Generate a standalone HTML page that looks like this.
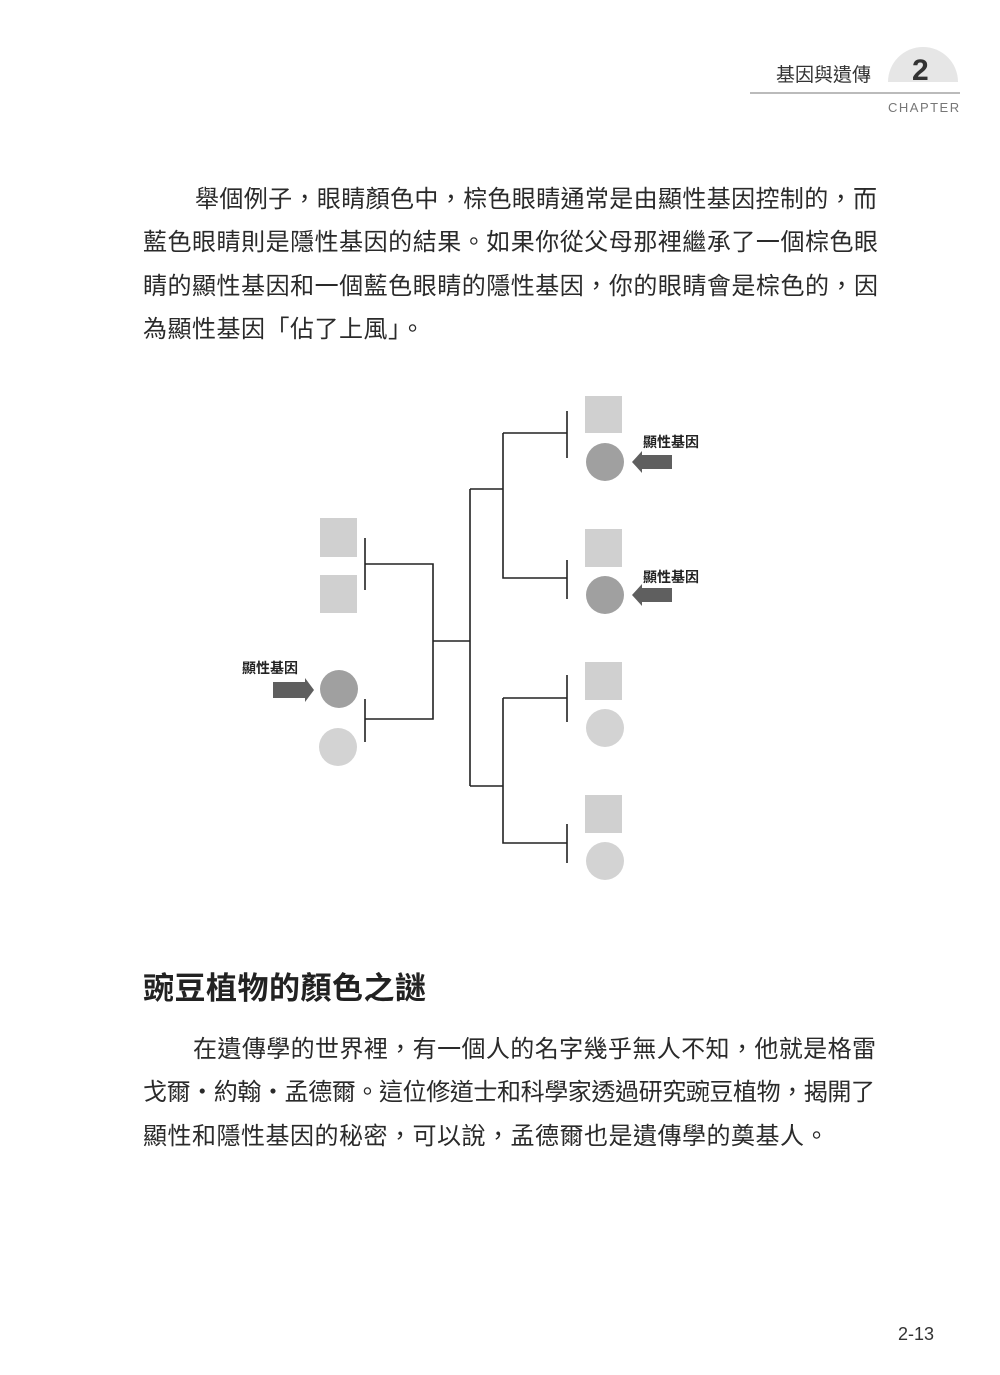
<!DOCTYPE html>
<html><head><meta charset="utf-8"><style>
body{margin:0;width:1000px;height:1375px;background:#fff;position:relative;overflow:hidden;font-family:"Liberation Sans","Noto Sans CJK TC",sans-serif;color:#222}
.l{position:absolute;font-size:24px;white-space:nowrap;text-align:justify;text-align-last:justify;line-height:30px;color:#2a2a2a}
</style></head><body>
<div style="position:absolute;left:888px;top:47px;width:70px;height:70px;border-radius:50%;background:#e6e6e6;clip-path:inset(0 0 35px 0)"></div>
<div style="position:absolute;left:750px;top:92px;width:210px;height:2px;background:#bbb"></div>
<div style="position:absolute;left:776px;top:60px;font-size:19px;color:#333">基因與遺傳</div>
<div style="position:absolute;left:912px;top:54px;font-size:30px;font-weight:bold;color:#333">2</div>
<div style="position:absolute;left:888px;top:100px;font-size:13px;letter-spacing:1.5px;color:#777">CHAPTER</div>

<div class="l" style="left:195px;top:185px;width:682px">舉個例子，眼睛顏色中，棕色眼睛通常是由顯性基因控制的，而</div>
<div class="l" style="left:143px;top:228px;width:735px">藍色眼睛則是隱性基因的結果。如果你從父母那裡繼承了一個棕色眼</div>
<div class="l" style="left:143px;top:272px;width:735px">睛的顯性基因和一個藍色眼睛的隱性基因，你的眼睛會是棕色的，因</div>
<div class="l" style="left:143px;top:315px;text-align:left;text-align-last:left;letter-spacing:0.5px">為顯性基因「佔了上風」。</div>

<svg style="position:absolute;left:0;top:0" width="1000" height="1375">
<g fill="#d0d0d0">
<rect x="320" y="518" width="37" height="39"/><rect x="320" y="575" width="37" height="38"/>
<rect x="585" y="396" width="37" height="37"/><rect x="585" y="529" width="37" height="38"/>
<rect x="585" y="662" width="37" height="38"/><rect x="585" y="795" width="37" height="38"/>
</g>
<g fill="#a0a0a0"><circle cx="339" cy="689" r="19"/><circle cx="605" cy="462" r="19"/><circle cx="605" cy="595" r="19"/></g>
<g fill="#d3d3d3"><circle cx="338" cy="747" r="19"/><circle cx="605" cy="728" r="19"/><circle cx="605" cy="861" r="19"/></g>
<g stroke="#222" stroke-width="1.6" fill="none">
<path d="M365 538V590M365 564H433V719H365M365 699V742M433 641H470M470 489V786M470 489H503M503 433V578H567M503 433H567M567 411V458M567 560V599M470 786H503M503 698V843H567M503 698H567M567 675V722M567 824V863"/>
</g>
<g fill="#5f5f5f">
<polygon points="273,682 305,682 305,678 314,690 305,702 305,698 273,698"/>
<polygon points="672,455 642,455 642,451 632,462 642,473 642,469 672,469"/>
<polygon points="672,588 642,588 642,584 632,595 642,606 642,602 672,602"/>
</g>
<g font-size="14" font-weight="bold" fill="#222" font-family="Liberation Sans,Noto Sans CJK TC,sans-serif">
<text x="242" y="673">顯性基因</text><text x="643" y="447">顯性基因</text><text x="643" y="582">顯性基因</text>
</g>
</svg>

<div style="position:absolute;left:143px;top:963px;font-size:31px;font-weight:bold;color:#222;letter-spacing:0.5px">豌豆植物的顏色之謎</div>
<div class="l" style="left:193px;top:1035px;width:683px">在遺傳學的世界裡，有一個人的名字幾乎無人不知，他就是格雷</div>
<div class="l" style="left:143px;top:1078px;letter-spacing:-0.4px;text-align:left;text-align-last:left">戈爾‧約翰‧孟德爾。這位修道士和科學家透過研究豌豆植物，揭開了</div>
<div class="l" style="left:143px;top:1122px;text-align:left;text-align-last:left;letter-spacing:0.5px">顯性和隱性基因的秘密，可以說，孟德爾也是遺傳學的奠基人。</div>

<div style="position:absolute;left:898px;top:1324px;font-size:18px;color:#333">2-13</div>
</body></html>
